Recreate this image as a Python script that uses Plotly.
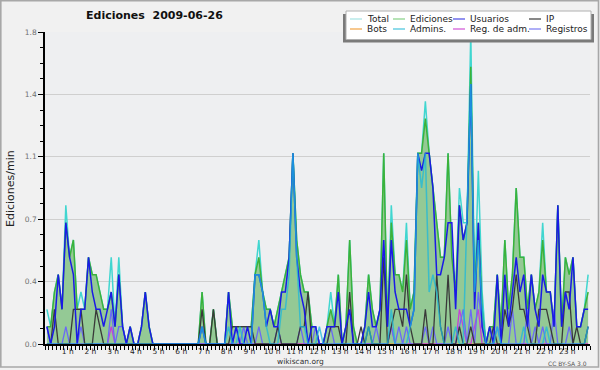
import plotly.graph_objects as go

# ---------------- data (10-minute bins, 6 per hour, values in edits/min) ----------------
hour_labels = [f"{h} h" for h in range(1, 24)]
hour_ticks = list(range(1, 24))

total = [
    0.2, 0.1, 0.3, 0.4, 0.2, 0.8,
    0.5, 0.6, 0.2, 0.3, 0.2, 0.5,
    0.4, 0.4, 0.3, 0.2, 0.2, 0.5,
    0.1, 0.5, 0.1, 0.0, 0.1, 0.0,
    0.0, 0.1, 0.3, 0.1, 0.0, 0.0,
    0.0, 0.0, 0.0, 0.0, 0.0, 0.0,
    0.0, 0.0, 0.0, 0.0, 0.0, 0.3,
    0.0, 0.0, 0.2, 0.0, 0.0, 0.0,
    0.3, 0.1, 0.1, 0.1, 0.1, 0.1,
    0.1, 0.4, 0.6, 0.3, 0.2, 0.2,
    0.1, 0.2, 0.3, 0.4, 0.5, 1.1,
    0.6, 0.4, 0.3, 0.3, 0.1, 0.1,
    0.0, 0.0, 0.1, 0.3, 0.1, 0.4,
    0.0, 0.1, 0.6, 0.1, 0.0, 0.0,
    0.1, 0.4, 0.2, 0.1, 0.2, 1.1,
    0.1, 0.8, 0.4, 0.4, 0.3, 0.7,
    0.2, 0.3, 1.1, 1.1, 1.4, 1.1,
    0.9, 0.7, 0.5, 0.5, 1.1, 0.5,
    0.3, 0.9, 0.7, 0.7, 1.8, 0.3,
    1.0, 0.3, 0.0, 0.1, 0.1, 0.4,
    0.1, 0.6, 0.2, 0.4, 0.9, 0.5,
    0.5, 0.2, 0.4, 0.2, 0.3, 0.7,
    0.3, 0.3, 0.1, 0.8, 0.1, 0.5,
    0.4, 0.5, 0.1, 0.1, 0.2, 0.4,
]

ediciones = [
    0.1, 0.1, 0.3, 0.4, 0.2, 0.7,
    0.5, 0.6, 0.2, 0.2, 0.2, 0.5,
    0.4, 0.4, 0.3, 0.2, 0.2, 0.3,
    0.1, 0.4, 0.1, 0.0, 0.1, 0.0,
    0.0, 0.1, 0.3, 0.1, 0.0, 0.0,
    0.0, 0.0, 0.0, 0.0, 0.0, 0.0,
    0.0, 0.0, 0.0, 0.0, 0.0, 0.3,
    0.0, 0.0, 0.2, 0.0, 0.0, 0.0,
    0.3, 0.1, 0.1, 0.1, 0.1, 0.1,
    0.1, 0.4, 0.5, 0.3, 0.2, 0.2,
    0.1, 0.2, 0.3, 0.4, 0.5, 1.1,
    0.6, 0.4, 0.3, 0.3, 0.1, 0.1,
    0.0, 0.0, 0.1, 0.2, 0.1, 0.4,
    0.0, 0.1, 0.6, 0.1, 0.0, 0.0,
    0.1, 0.4, 0.2, 0.1, 0.2, 1.1,
    0.1, 0.7, 0.4, 0.4, 0.3, 0.6,
    0.2, 0.3, 1.1, 1.1, 1.3, 1.1,
    0.9, 0.7, 0.5, 0.5, 1.1, 0.5,
    0.3, 0.8, 0.6, 0.7, 1.6, 0.3,
    0.7, 0.2, 0.0, 0.1, 0.1, 0.4,
    0.1, 0.6, 0.2, 0.4, 0.9, 0.5,
    0.5, 0.2, 0.4, 0.2, 0.3, 0.6,
    0.3, 0.3, 0.1, 0.8, 0.1, 0.5,
    0.4, 0.5, 0.1, 0.1, 0.2, 0.3,
]

usuarios = [
    0.1, 0.0, 0.1, 0.4, 0.2, 0.7,
    0.5, 0.4, 0.0, 0.2, 0.2, 0.5,
    0.3, 0.2, 0.2, 0.1, 0.2, 0.3,
    0.1, 0.4, 0.1, 0.0, 0.1, 0.0,
    0.0, 0.1, 0.3, 0.1, 0.0, 0.0,
    0.0, 0.0, 0.0, 0.0, 0.0, 0.0,
    0.0, 0.0, 0.0, 0.0, 0.0, 0.1,
    0.0, 0.0, 0.0, 0.0, 0.0, 0.0,
    0.3, 0.0, 0.1, 0.0, 0.0, 0.1,
    0.0, 0.4, 0.4, 0.3, 0.1, 0.2,
    0.1, 0.1, 0.3, 0.3, 0.5, 1.1,
    0.5, 0.3, 0.2, 0.0, 0.1, 0.1,
    0.0, 0.0, 0.1, 0.1, 0.1, 0.3,
    0.0, 0.1, 0.2, 0.0, 0.0, 0.0,
    0.1, 0.3, 0.1, 0.1, 0.2, 0.6,
    0.1, 0.6, 0.3, 0.2, 0.2, 0.2,
    0.1, 0.2, 1.1, 1.0, 1.1, 1.1,
    0.9, 0.4, 0.4, 0.5, 0.7, 0.7,
    0.2, 0.8, 0.6, 0.7, 1.5, 0.2,
    0.7, 0.1, 0.0, 0.1, 0.0, 0.4,
    0.0, 0.4, 0.1, 0.3, 0.5, 0.3,
    0.4, 0.1, 0.4, 0.2, 0.1, 0.4,
    0.3, 0.3, 0.1, 0.8, 0.1, 0.3,
    0.2, 0.5, 0.1, 0.1, 0.2, 0.2,
]

ip = [
    0.0, 0.0, 0.2, 0.0, 0.0, 0.0,
    0.0, 0.2, 0.2, 0.2, 0.0, 0.0,
    0.0, 0.2, 0.1, 0.0, 0.0, 0.0,
    0.0, 0.0, 0.0, 0.0, 0.0, 0.0,
    0.0, 0.0, 0.0, 0.0, 0.0, 0.0,
    0.0, 0.0, 0.0, 0.0, 0.0, 0.0,
    0.0, 0.0, 0.0, 0.0, 0.0, 0.2,
    0.0, 0.0, 0.2, 0.0, 0.0, 0.0,
    0.0, 0.1, 0.1, 0.1, 0.1, 0.1,
    0.1, 0.0, 0.0, 0.0, 0.0, 0.0,
    0.0, 0.1, 0.0, 0.0, 0.0, 0.0,
    0.0, 0.1, 0.1, 0.3, 0.0, 0.0,
    0.0, 0.0, 0.0, 0.1, 0.1, 0.1,
    0.0, 0.0, 0.3, 0.0, 0.0, 0.1,
    0.0, 0.1, 0.0, 0.0, 0.0, 0.5,
    0.0, 0.1, 0.2, 0.2, 0.1, 0.4,
    0.1, 0.0, 0.0, 0.0, 0.2, 0.0,
    0.0, 0.4, 0.1, 0.0, 0.4, 0.0,
    0.0, 0.1, 0.0, 0.0, 0.1, 0.0,
    0.0, 0.0, 0.0, 0.0, 0.1, 0.0,
    0.0, 0.2, 0.1, 0.2, 0.4, 0.2,
    0.2, 0.1, 0.0, 0.0, 0.2, 0.2,
    0.2, 0.1, 0.0, 0.0, 0.0, 0.3,
    0.3, 0.0, 0.1, 0.0, 0.0, 0.1,
]

bots = [0.0] * 144

admins = [
    0.0, 0.0, 0.0, 0.0, 0.0, 0.0,
    0.0, 0.0, 0.0, 0.0, 0.0, 0.0,
    0.0, 0.0, 0.0, 0.0, 0.0, 0.0,
    0.0, 0.0, 0.0, 0.0, 0.0, 0.0,
    0.0, 0.0, 0.0, 0.0, 0.0, 0.0,
    0.0, 0.0, 0.0, 0.0, 0.0, 0.0,
    0.0, 0.0, 0.0, 0.0, 0.0, 0.1,
    0.0, 0.0, 0.0, 0.0, 0.0, 0.0,
    0.1, 0.0, 0.0, 0.1, 0.0, 0.0,
    0.0, 0.4, 0.4, 0.3, 0.1, 0.0,
    0.0, 0.0, 0.2, 0.2, 0.4, 1.1,
    0.5, 0.1, 0.1, 0.0, 0.0, 0.0,
    0.1, 0.0, 0.0, 0.0, 0.0, 0.0,
    0.0, 0.0, 0.0, 0.0, 0.0, 0.0,
    0.0, 0.1, 0.0, 0.0, 0.0, 0.0,
    0.0, 0.2, 0.0, 0.0, 0.0, 0.0,
    0.1, 0.2, 1.1, 0.9, 1.1, 0.3,
    0.4, 0.3, 0.1, 0.0, 0.0, 0.0,
    0.1, 0.0, 0.0, 0.7, 1.5, 0.3,
    0.6, 0.2, 0.0, 0.0, 0.0, 0.1,
    0.0, 0.0, 0.0, 0.0, 0.0, 0.0,
    0.1, 0.0, 0.0, 0.0, 0.0, 0.0,
    0.1, 0.0, 0.0, 0.0, 0.0, 0.0,
    0.0, 0.0, 0.0, 0.0, 0.0, 0.1,
]

reg_adm = [
    0.0, 0.0, 0.0, 0.0, 0.0, 0.0,
    0.0, 0.0, 0.0, 0.0, 0.0, 0.0,
    0.0, 0.0, 0.0, 0.0, 0.0, 0.1,
    0.0, 0.0, 0.0, 0.0, 0.0, 0.0,
    0.0, 0.0, 0.0, 0.0, 0.0, 0.0,
    0.0, 0.0, 0.0, 0.0, 0.0, 0.0,
    0.0, 0.0, 0.0, 0.0, 0.0, 0.0,
    0.0, 0.0, 0.0, 0.0, 0.0, 0.0,
    0.0, 0.0, 0.0, 0.0, 0.0, 0.0,
    0.0, 0.0, 0.0, 0.0, 0.0, 0.0,
    0.0, 0.0, 0.0, 0.0, 0.0, 0.0,
    0.0, 0.0, 0.0, 0.0, 0.0, 0.0,
    0.0, 0.0, 0.0, 0.0, 0.0, 0.0,
    0.0, 0.0, 0.0, 0.0, 0.0, 0.0,
    0.0, 0.0, 0.0, 0.0, 0.0, 0.0,
    0.0, 0.1, 0.0, 0.0, 0.0, 0.0,
    0.0, 0.0, 0.0, 0.0, 0.0, 0.0,
    0.0, 0.0, 0.0, 0.0, 0.0, 0.0,
    0.0, 0.2, 0.1, 0.0, 0.0, 0.1,
    0.2, 0.0, 0.0, 0.0, 0.0, 0.0,
    0.0, 0.0, 0.0, 0.0, 0.0, 0.0,
    0.0, 0.0, 0.0, 0.0, 0.0, 0.0,
    0.0, 0.0, 0.0, 0.0, 0.0, 0.0,
    0.0, 0.0, 0.0, 0.0, 0.0, 0.0,
]

registros = [
    0.1, 0.0, 0.0, 0.0, 0.0, 0.1,
    0.0, 0.0, 0.0, 0.1, 0.0, 0.0,
    0.0, 0.0, 0.0, 0.0, 0.0, 0.2,
    0.0, 0.1, 0.1, 0.0, 0.0, 0.0,
    0.0, 0.0, 0.0, 0.0, 0.0, 0.0,
    0.0, 0.0, 0.0, 0.0, 0.0, 0.0,
    0.0, 0.0, 0.0, 0.0, 0.0, 0.0,
    0.0, 0.0, 0.0, 0.0, 0.0, 0.0,
    0.0, 0.0, 0.1, 0.0, 0.1, 0.0,
    0.0, 0.0, 0.1, 0.0, 0.0, 0.0,
    0.0, 0.1, 0.0, 0.0, 0.0, 0.0,
    0.0, 0.1, 0.0, 0.0, 0.0, 0.1,
    0.0, 0.0, 0.0, 0.1, 0.0, 0.0,
    0.0, 0.0, 0.0, 0.0, 0.0, 0.0,
    0.0, 0.0, 0.0, 0.1, 0.0, 0.0,
    0.0, 0.1, 0.0, 0.1, 0.0, 0.1,
    0.0, 0.0, 0.0, 0.0, 0.1, 0.0,
    0.1, 0.0, 0.0, 0.0, 0.1, 0.0,
    0.0, 0.1, 0.2, 0.0, 0.2, 0.0,
    0.3, 0.1, 0.0, 0.0, 0.0, 0.1,
    0.0, 0.0, 0.0, 0.2, 0.0, 0.0,
    0.0, 0.2, 0.0, 0.1, 0.0, 0.1,
    0.0, 0.0, 0.2, 0.0, 0.0, 0.0,
    0.1, 0.0, 0.0, 0.0, 0.0, 0.1,
]

# bin centres in hours
times = [(i + 0.5) / 6 for i in range(len(total))]

# ---------------- figure geometry ----------------
W, H = 600, 370
L, R, T, B = 45, 10, 32, 26
PW, PH = W - L - R, H - T - B


def xp(px):
    return (px - L) / PW


def yp(py):
    return (H - B - py) / PH


FONT = "DejaVu Sans"

fig = go.Figure()


def add_line(y, color, width=1.5, opacity=1.0, fill=None, fillcolor=None):
    fig.add_trace(go.Scatter(
        x=times, y=y, mode="lines",
        line=dict(color=color, width=width),
        opacity=opacity, fill=fill, fillcolor=fillcolor,
        showlegend=False, hoverinfo="skip",
    ))


add_line(total, "#40d6d0", 1.5)
add_line(ediciones, "#3bb23b", 1.5, fill="tozeroy", fillcolor="#94c995")
add_line(bots, "#f0a030", 1.2)
add_line(reg_adm, "#c640d6", 1.3)
add_line(registros, "#6a6af5", 1.3)
add_line(ip, "#3a3a3a", 1.3)
add_line(usuarios, "#1a1ae6", 1.5)
add_line(admins, "#1cb8dc", 1.5, opacity=0.75)

fig.update_layout(
    width=W, height=H,
    margin=dict(l=L, r=R, t=T, b=B, pad=0),
    paper_bgcolor="#f1f1f1",
    plot_bgcolor="#eeeff1",
    showlegend=False,
    font=dict(family=FONT, color="#222222"),
)

fig.update_xaxes(
    range=[0, 24], showgrid=False, zeroline=False,
    showline=True, linecolor="black", linewidth=1.5,
    tickmode="array", tickvals=hour_ticks, ticktext=hour_labels,
    ticks="outside", ticklen=4, tickwidth=1, tickcolor="black",
    tickfont=dict(size=7.5, color="#222222", family=FONT),
    minor=dict(tickmode="linear", tick0=0, dtick=1 / 6, ticks="outside",
               ticklen=4, tickwidth=1, tickcolor="black", showgrid=False),
    ticklabelstandoff=-5,
    fixedrange=True,
)

fig.update_yaxes(
    range=[0, 1.8], showgrid=True, gridcolor="#cfcfcf", gridwidth=1,
    zeroline=False, showline=True, linecolor="black", linewidth=1.5,
    tickmode="array", tickvals=[0, 0.36, 0.72, 1.08, 1.44, 1.8],
    ticktext=["0.0", "0.4", "0.7", "1.1", "1.4", "1.8"],
    ticks="outside", ticklen=5, tickwidth=1, tickcolor="black",
    tickfont=dict(size=7.5, color="#707070", family=FONT),
    minor=dict(tickmode="linear", tick0=0, dtick=0.09, ticks="outside",
               ticklen=3, tickwidth=1, tickcolor="black", showgrid=False),
    fixedrange=True,
)

shapes = []
annots = []

# outer frame
shapes.append(dict(type="rect", xref="paper", yref="paper",
                   x0=xp(0.8), x1=xp(598.5), y0=yp(0.8), y1=yp(367),
                   line=dict(color="#a8a8a8", width=1.6), fillcolor="rgba(0,0,0,0)",
                   layer="below"))

# title
annots.append(dict(text="<b>Ediciones\u00a0 2009-06-26</b>", xref="paper", yref="paper",
                   x=xp(154), y=yp(16), xanchor="center", yanchor="middle",
                   showarrow=False, font=dict(size=11, family=FONT, color="#111111")))
# y axis title
annots.append(dict(text="Ediciones/min", xref="paper", yref="paper",
                   x=xp(10), y=yp(189), xanchor="center", yanchor="middle",
                   textangle=-90, showarrow=False,
                   font=dict(size=11, family=FONT, color="#222222")))
# footer
annots.append(dict(text="wikiscan.org", xref="paper", yref="paper",
                   x=xp(300), y=yp(361.5), xanchor="center", yanchor="middle",
                   showarrow=False, font=dict(size=7.5, family=FONT, color="#333333")))
annots.append(dict(text="CC BY-SA 3.0", xref="paper", yref="paper",
                   x=xp(589), y=yp(363), xanchor="right", yanchor="middle",
                   showarrow=False, font=dict(size=6, family=FONT, color="#555555")))

# custom legend box
shapes.append(dict(type="rect", xref="paper", yref="paper",
                   x0=xp(343), x1=xp(594), y0=yp(14), y1=yp(42.5),
                   line=dict(width=0), fillcolor="#7a7a7a"))
shapes.append(dict(type="rect", xref="paper", yref="paper",
                   x0=xp(346), x1=xp(591), y0=yp(11), y1=yp(39.5),
                   line=dict(color="#b0b0b0", width=1), fillcolor="#ffffff"))

legend_items = [
    ("Total", "#a6e3e3", 350, 19), ("Ediciones", "#86d086", 393, 19),
    ("Usuarios", "#4a4ae6", 453, 19), ("IP", "#3a3a3a", 529, 19),
    ("Bots", "#f2a445", 350, 29), ("Admins.", "#45c4dc", 393, 29),
    ("Reg. de adm.", "#d052d6", 453, 29), ("Registros", "#7a7af2", 529, 29),
]
for name, col, lx, ly in legend_items:
    shapes.append(dict(type="line", xref="paper", yref="paper",
                       x0=xp(lx), x1=xp(lx + 12), y0=yp(ly), y1=yp(ly),
                       line=dict(color=col, width=1.2)))
    annots.append(dict(text=name, xref="paper", yref="paper",
                       x=xp(lx + 15), y=yp(ly), xanchor="left", yanchor="middle",
                       showarrow=False, font=dict(size=9, family=FONT, color="#222222")))

fig.update_layout(shapes=shapes, annotations=annots)

fig.write_html("out.html", config={"displayModeBar": False},
               post_script="document.body.style.margin='0px';document.body.style.padding='0px';")
